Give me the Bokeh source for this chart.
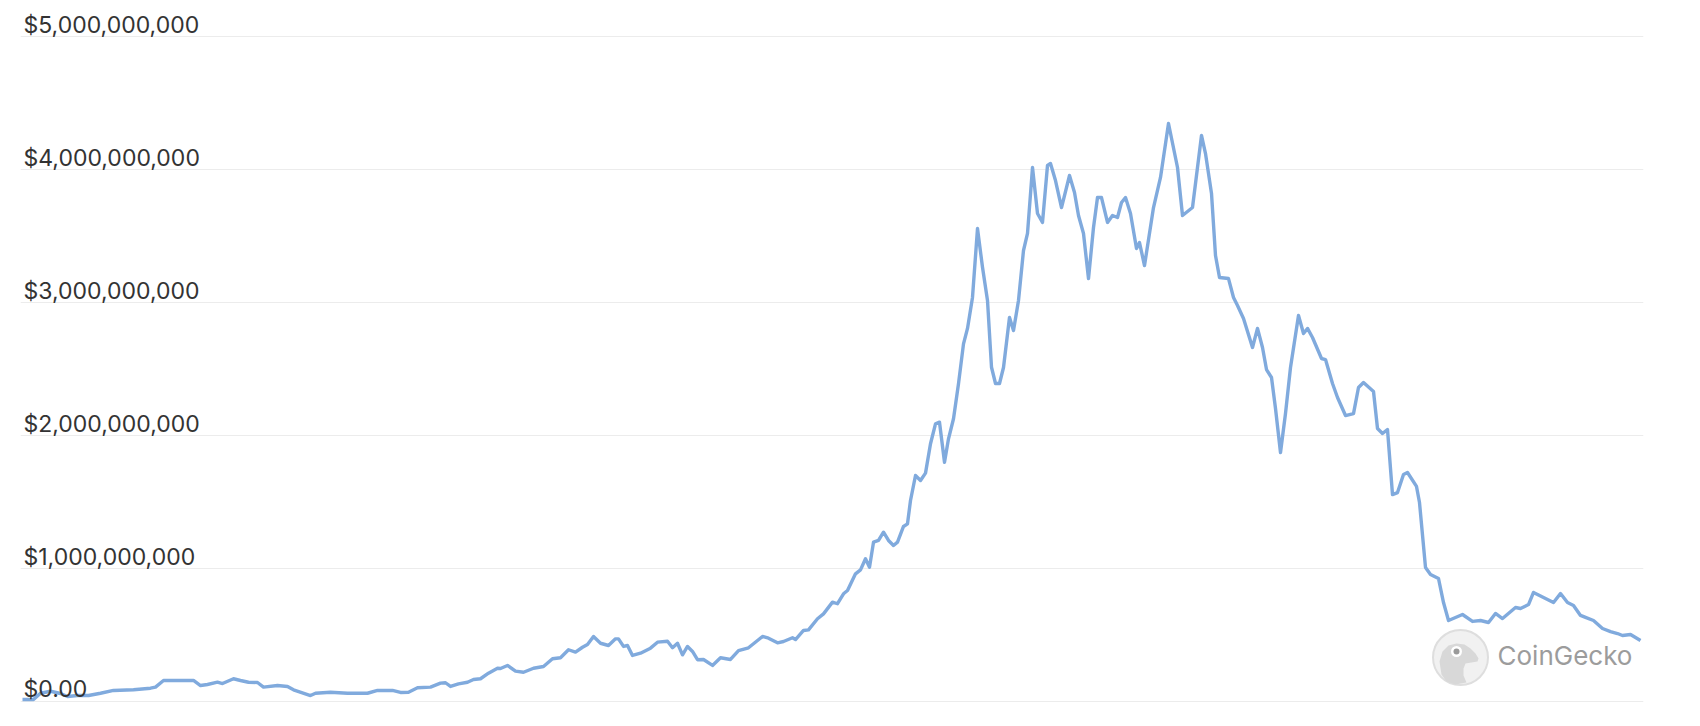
from bokeh.plotting import figure
from bokeh.models import Range1d, Grid, FixedTicker, ColumnDataSource
from bokeh.core.properties import value
from bokeh.embed import file_html
from bokeh.resources import INLINE

# ---- data (sample position, volume in billions USD) ----
t = [22, 33, 40, 50, 60, 67, 77, 88, 100, 113, 133, 150, 155, 163, 173, 193, 200, 207, 217, 222,
     233, 240, 248, 257, 263, 277, 287, 293, 310, 315, 330, 347, 367, 377, 392, 400, 408, 417,
     430, 440, 445, 450, 458, 467, 473, 480, 488, 497, 500, 507, 515, 523, 533, 543, 552, 560,
     568, 575, 582, 587, 593, 600, 608, 615, 618, 623, 627, 632, 640, 650, 657, 667, 672, 677,
     682, 687, 692, 697, 703, 712, 720, 730, 738, 748, 762, 768, 777, 783, 792, 795, 803, 808,
     817, 823, 832, 837, 843, 847, 855, 860, 865, 869, 873, 878, 883, 888, 893, 897, 903, 907,
     910, 915, 920, 925, 930, 935, 939, 944, 948, 953, 958, 963, 967, 972, 977, 982, 987, 991,
     995, 999, 1003, 1009, 1013, 1018,
     1023, 1027, 1032, 1037, 1042, 1047, 1050, 1055, 1061, 1069, 1074, 1078, 1083, 1088, 1093,
     1097, 1101, 1107, 1112, 1117, 1121, 1125, 1130, 1136, 1139, 1144, 1153, 1160, 1168, 1177,
     1182, 1192, 1201, 1205, 1211, 1215, 1219, 1228,
     1233, 1237, 1243, 1252, 1257, 1262, 1266, 1271, 1275, 1280, 1285, 1290, 1298, 1303, 1307,
     1312, 1321, 1325, 1332, 1337, 1345, 1353, 1358, 1363, 1373, 1377, 1382, 1387, 1392, 1397,
     1403, 1407, 1416, 1419, 1425, 1430, 1438, 1443, 1448,
     1462, 1472, 1480, 1488, 1495, 1502, 1515, 1520, 1528, 1533, 1543, 1553, 1560, 1567, 1573,
     1580, 1585, 1593, 1602, 1610, 1617, 1622, 1630, 1635, 1640]

volume_bn = [0.015, 0.015, 0.062, 0.077, 0.060, 0.038, 0.045, 0.045, 0.062, 0.083, 0.088, 0.100, 0.108,
             0.158, 0.158, 0.158, 0.120, 0.128, 0.145, 0.135, 0.171, 0.158, 0.145, 0.143, 0.108, 0.120,
             0.113, 0.088, 0.045, 0.062, 0.070, 0.062, 0.062, 0.083, 0.083, 0.068, 0.070, 0.103,
             0.108, 0.138, 0.141, 0.113, 0.133, 0.145, 0.165, 0.171, 0.213, 0.250, 0.248, 0.271, 0.228,
             0.220, 0.250, 0.263, 0.321, 0.329, 0.389, 0.371, 0.408, 0.429, 0.489, 0.438, 0.421, 0.471,
             0.471, 0.414, 0.421, 0.346, 0.363, 0.401, 0.446, 0.453, 0.404, 0.438, 0.351, 0.414, 0.376,
             0.314, 0.316, 0.271, 0.329, 0.316, 0.383, 0.404, 0.489, 0.476, 0.441, 0.451, 0.479, 0.466,
             0.534, 0.539,
             0.622, 0.659, 0.747, 0.735, 0.810, 0.835, 0.960, 0.990, 1.073, 1.010, 1.198, 1.211, 1.273,
             1.211, 1.173, 1.198, 1.316, 1.336, 1.511, 1.699, 1.662, 1.717, 1.938, 2.088, 2.100, 1.799,
             1.975, 2.126, 2.389, 2.689, 2.805, 3.038, 3.556, 3.265, 3.015, 2.513, 2.391, 2.391, 2.511,
             2.887, 2.789, 3.015,
             3.391, 3.519, 4.015, 3.669, 3.602, 4.030, 4.045, 3.917, 3.714, 3.955, 3.827, 3.654, 3.519,
             3.180, 3.564, 3.789, 3.789, 3.602, 3.654, 3.639, 3.752, 3.789, 3.669, 3.406, 3.451, 3.278,
             3.714, 3.940, 4.346, 4.015, 3.654, 3.714, 4.256, 4.120, 3.820, 3.353, 3.188, 3.180,
             3.038, 2.977, 2.880, 2.662, 2.805, 2.662, 2.496, 2.436, 2.203, 1.872, 2.165, 2.511, 2.902,
             2.767, 2.805, 2.737, 2.579, 2.571, 2.391, 2.286, 2.150, 2.165, 2.361, 2.398, 2.331, 2.053,
             2.015, 2.045, 1.556, 1.571, 1.707, 1.722, 1.617, 1.496, 1.008, 0.955, 0.925, 0.744, 0.609,
             0.654, 0.602, 0.609, 0.594, 0.662, 0.624, 0.707, 0.699, 0.729, 0.820, 0.782, 0.744, 0.812,
             0.744, 0.722, 0.647, 0.632, 0.609, 0.549, 0.526, 0.511, 0.496, 0.504, 0.481, 0.459]

tick_values = [0, 1e9, 2e9, 3e9, 4e9, 5e9]
tick_labels = ["$0.00", "$1,000,000,000", "$2,000,000,000", "$3,000,000,000",
               "$4,000,000,000", "$5,000,000,000"]

volume = [v * 1e9 for v in volume_bn]

# ---- figure ----
p = figure(width=1692, height=718,
           x_range=Range1d(20, 1643), y_range=Range1d(-0.12782e9, 5.27068e9),
           output_backend="svg", toolbar_location=None,
           x_axis_location=None, y_axis_location=None,
           min_border_left=20, min_border_right=49, min_border_top=0, min_border_bottom=0)
p.outline_line_color = None
p.background_fill_color = "white"
p.border_fill_color = "white"
for g in p.grid:
    g.visible = False
p.add_layout(Grid(dimension=1, ticker=FixedTicker(ticks=tick_values),
                  grid_line_color="#ececec", grid_line_width=1.2))

# pixel-space range for the watermark
p.extra_y_ranges = {"px": Range1d(718, 0)}

# watermark (CoinGecko logo)
cx, cy = 1460, 657
p.scatter(x=[cx], y=[cy], y_range_name="px", marker="circle", size=55,
          fill_color="#f1f1f1", line_color="#dedede", line_width=2)
head_dx = [-19, -21, -18, -12, -4, 4, 10, 15, 18, 17, 11, 5, 3, 3, 6, -5, -14]
head_dy = [17, 4, -6, -12, -14, -13, -9, -4, 1, 4, 5, 6, 11, 18, 25, 27, 24]
p.patch(x=[cx + d for d in head_dx], y=[cy + d for d in head_dy], y_range_name="px",
        fill_color="#d8d8d8", line_color=None)
p.scatter(x=[cx - 4], y=[cy - 6], y_range_name="px", marker="circle", size=11,
          fill_color="white", line_color=None)
p.scatter(x=[cx - 4], y=[cy - 6], y_range_name="px", marker="circle", size=6,
          fill_color="#9a9a9a", line_color=None)
p.text(x=[1497], y=[655], text=["CoinGecko"], y_range_name="px",
       text_font=value("Inter"), text_font_size="26px", text_color="#9c9c9c",
       text_baseline="middle", text_align="left")

# data line
src = ColumnDataSource(dict(t=t, v=volume))
p.line("t", "v", source=src, line_color="#80aadd", line_width=3.4, line_join="round")

# y tick labels drawn inside the plot, above each gridline
p.text(x=[p.x_range.start] * len(tick_values), y=tick_values, text=tick_labels,
       x_offset=3, y_offset=-12, text_baseline="alphabetic", text_align="left",
       text_font=value("Inter"), text_font_size="23px", text_color="#333333")

open("out.html", "w").write(file_html(p, INLINE))
